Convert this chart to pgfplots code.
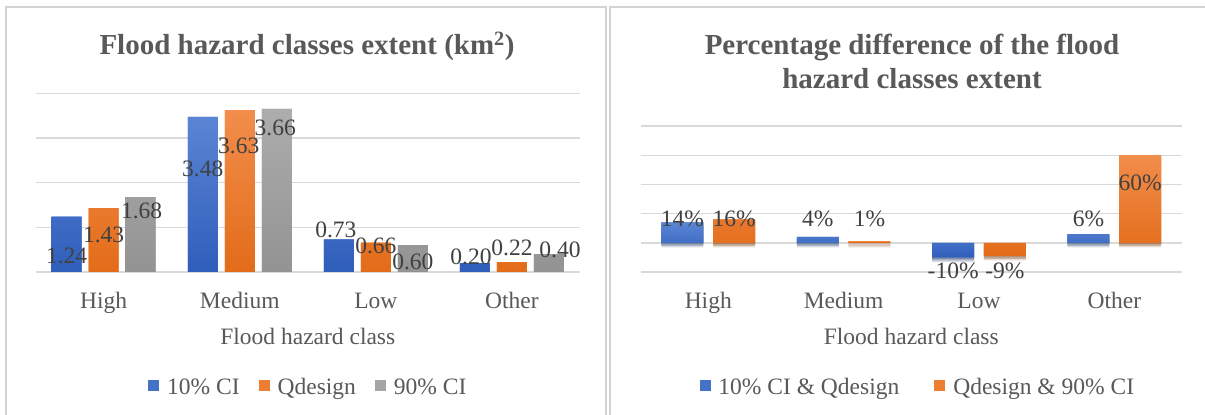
\documentclass[border=0pt]{standalone}
\usepackage{pgfplots}
\pgfplotsset{compat=1.18}
\usepackage{pgfplotstable}
\usepackage{fontspec}
\setmainfont{Liberation Serif}

\definecolor{blueT}{HTML}{5B85D4}
\definecolor{blueB}{HTML}{2F5EBB}
\definecolor{blueM}{HTML}{4472C4}
\definecolor{orangeT}{HTML}{F28D4B}
\definecolor{orangeB}{HTML}{E36C19}
\definecolor{orangeM}{HTML}{ED7D31}
\definecolor{grayT}{HTML}{ADADAD}
\definecolor{grayB}{HTML}{939393}
\definecolor{grayM}{HTML}{A5A5A5}
\definecolor{gridc}{HTML}{D9D9D9}
\definecolor{txt}{HTML}{595959}
\definecolor{lbl}{HTML}{404040}
\definecolor{framec}{HTML}{D4D4D4}

\newcommand\lblfont{\fontsize{23.5}{28}\selectfont}
\newcommand\ttlfont{\fontsize{29}{33}\selectfont\bfseries}

% extent (km^2): x = class index, dx/dy = label offset from the bar end (pt)
\pgfplotstableread{
x y dx dy
0 1.24 0 -39
1 3.48 0 -52
2 0.73 -3 10
3 0.20 -4 6
}\extLow
\pgfplotstableread{
x y dx dy
0 1.43 0 -27
1 3.63 -1 -36
2 0.66 0 -3
3 0.22 0 14
}\extDesign
\pgfplotstableread{
x y dx dy
0 1.68 1 -14
1 3.66 -1.5 -19
2 0.60 0 -17
3 0.40 11 4
}\extHigh

% percentage differences
\pgfplotstableread{
x y dx dy
0 14 0 4
1 4 0 18
2 -10 0 -13.5
3 6 0 15
}\diffLow
\pgfplotstableread{
x y dx dy
0 16 0 1
1 1 0 22
2 -9 0 -15
3 60 0 -28
}\diffHigh

\pgfplotsset{
  panel/.style={
    scale only axis, anchor=south west, clip=false,
    xmin=-0.5, xmax=3.5,
    xtick={0,1,2,3}, xticklabels={High,Medium,Low,Other},
    axis line style={draw=none}, major tick length=0pt,
    ymajorgrids, grid style={gridc, line width=1.4pt},
    yticklabels={},
    /pgf/number format/assume math mode=true,
    ticklabel style={font=\lblfont, text=txt},
    xticklabel style={anchor=base, yshift=-36pt},
    xlabel={Flood hazard class},
    xlabel style={at={(axis description cs:0.5,0)}, anchor=base, yshift=-72pt, font=\lblfont, text=txt},
    legend style={draw=none, fill=none, at={(axis description cs:0.5,0)}, anchor=center,
      yshift=-115pt, font=\lblfont, text=txt},
    legend columns=-1,
    visualization depends on={\thisrow{dx} \as \dx},
    visualization depends on={\thisrow{dy} \as \dy},
    every node near coord/.append style={anchor=center, xshift=\dx pt, yshift=\dy pt,
      font=\lblfont, text=lbl},
  },
  % plain square legend key, drawn at pgf level so no bar shadow is added
  sq/.style={legend image code/.code={%
    \pgfpathrectangle{\pgfpoint{-1pt}{0pt}}{\pgfpoint{18pt}{0pt}}\pgfusepath{discard}%
    \pgfsetfillcolor{#1}%
    \pgfpathrectangle{\pgfpoint{0pt}{-4pt}}{\pgfpoint{11pt}{11pt}}\pgfusepath{fill}}},
  % soft shadow under each bar, built from a few offset translucent copies
  soft shadow/.style={
    preaction={fill=black, fill opacity=0.14, draw=none, transform canvas={yshift=-1.5pt}},
    preaction={fill=black, fill opacity=0.14, draw=none, transform canvas={yshift=-3pt}},
    preaction={fill=black, fill opacity=0.09, draw=none, transform canvas={yshift=-4.5pt}},
  },
}

\begin{document}
\begin{tikzpicture}[x=1pt, y=1pt]
\useasboundingbox (0,0) rectangle (1205,415);
\fill[white] (0,0) rectangle (1205,415);

% panel frames
\draw[framec, line width=2pt] (6,-2) -- (6,407.5) -- (606,407.5) -- (606,-2);
\draw[framec, line width=2pt] (610,-2) -- (610,407.5) -- (1210,407.5);

% titles
\node[anchor=base, font=\ttlfont, text=txt] at (307,360) {Flood hazard classes extent (km\textsuperscript{2})};
\node[anchor=base, font=\ttlfont, text=txt] at (912,360) {Percentage difference of the flood};
\node[anchor=base, font=\ttlfont, text=txt] at (912,326.7) {hazard classes extent};

\begin{axis}[panel,
  at={(35.6pt,143pt)}, width=544.4pt, height=178.4pt,
  ymin=0, ymax=4, ytick={0,1,2,3,4},
  ybar=7pt, bar width=30pt,
  nodes near coords={\pgfmathprintnumber[fixed,fixed zerofill,precision=2]{\pgfplotspointmeta}},
  legend style={/tikz/every even column/.append style={column sep=16pt}},
]
\addplot[draw=none, fill=blueM, top color=blueT, bottom color=blueB, sq=blueM] table[x=x,y=y] {\extLow};
\addlegendentry{10\% CI}
\addplot[draw=none, fill=orangeM, top color=orangeT, bottom color=orangeB, sq=orangeM] table[x=x,y=y] {\extDesign};
\addlegendentry{Qdesign}
\addplot[draw=none, fill=grayM, top color=grayT, bottom color=grayB, sq=grayM] table[x=x,y=y] {\extHigh};
\addlegendentry{90\% CI}
\end{axis}

\begin{axis}[panel,
  at={(640.6pt,143pt)}, width=541.4pt, height=146pt,
  ymin=-20, ymax=80, ytick={-20,0,20,40,60,80},
  ybar=9.7pt, bar width=42pt,
  nodes near coords={\pgfmathprintnumber[fixed,precision=0]{\pgfplotspointmeta}\%},
  legend style={xshift=6pt, /tikz/every even column/.append style={column sep=32pt}},
]
\addplot[draw=none, fill=blueM, top color=blueT, bottom color=blueB, sq=blueM, soft shadow]
  table[x=x,y=y] {\diffLow};
\addlegendentry{10\% CI \& Qdesign}
\addplot[draw=none, fill=orangeM, top color=orangeT, bottom color=orangeB, sq=orangeM, soft shadow]
  table[x=x,y=y] {\diffHigh};
\addlegendentry{Qdesign \& 90\% CI}
\end{axis}
\end{tikzpicture}
\end{document}
